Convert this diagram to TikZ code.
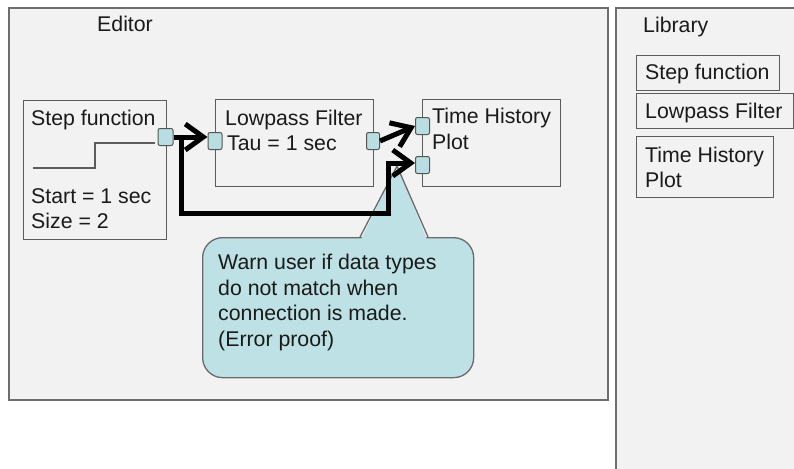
\documentclass[tikz,border=0pt]{standalone}
\usepackage{fontspec}
\setmainfont{Liberation Sans}
\usetikzlibrary{arrows.meta}
\definecolor{panelbg}{HTML}{F2F2F2}
\definecolor{panelline}{HTML}{6E6E6E}
\definecolor{boxline}{HTML}{5C5C5C}
\definecolor{portfill}{HTML}{B8DEE1}
\definecolor{portline}{HTML}{555555}
\definecolor{calloutfill}{HTML}{BDE1E4}
\definecolor{calloutline}{HTML}{6A6A6A}
\definecolor{txt}{HTML}{1A1A1A}
\begin{document}
\begin{tikzpicture}[x=1pt,y=-1pt,
  panel/.style={draw=panelline, line width=1.8pt, fill=panelbg},
  blockbox/.style={draw=boxline, line width=1.3pt, anchor=north west, inner sep=0pt},
  port/.style={draw=portline, fill=portfill, line width=1pt, rounded corners=2pt,
    minimum width=14pt, minimum height=17pt, inner sep=0pt},
  lbl/.style={anchor=base west, inner sep=0pt, font=\fontsize{21.3}{25.5}\selectfont, text=txt},
  conn/.style={line width=5pt, line join=miter, draw=black,
    -{Straight Barb[length=18pt,width=26pt]}},
  calloutbox/.style={draw=calloutline, fill=calloutfill, line width=1.3pt,
    rounded corners=20pt, anchor=north west, inner sep=0pt}
]
\useasboundingbox (0,0) rectangle (794,468);
\clip (0,0) rectangle (794,468);
\fill[white] (0,0) rectangle (794,468);

% panels
\node[panel, anchor=north west, minimum width=599pt, minimum height=392pt, inner sep=0pt] (editor) at (8,7) {};
\node[panel, anchor=north west, minimum width=200pt, minimum height=480pt, inner sep=0pt] (library) at (615,7) {};
\node[lbl] (editorlbl) at (97,32) {Editor};
\node[lbl] (librarylbl) at (643,33) {Library};

% library items
\node[blockbox, minimum width=143pt, minimum height=35pt] (libstep) at (636,55) {};
\node[lbl] (libsteplbl) at (645,80) {Step function};
\node[blockbox, minimum width=157pt, minimum height=35pt] (liblp) at (636,93) {};
\node[lbl] (liblplbl) at (645,118) {Lowpass Filter};
\node[blockbox, minimum width=137pt, minimum height=61pt] (libth) at (636,136) {};
\node[lbl] (libthlbl1) at (645,162) {Time History};
\node[lbl] (libthlbl2) at (645,187) {Plot};

% step function block
\node[blockbox, minimum width=143pt, minimum height=139pt] (stepbox) at (23,100) {};
\node[lbl] (steplbl) at (31,125) {Step function};
\draw[draw=boxline, line width=1.1pt] (33,168) -- (95,168) -- (95,143) -- (155,143);
\node[lbl] (startlbl) at (31,203) {Start = 1 sec};
\node[lbl] (sizelbl) at (31,228) {Size = 2};

% lowpass block
\node[blockbox, minimum width=158pt, minimum height=87pt] (lpbox) at (215,99) {};
\node[lbl] (lplbl) at (225,125) {Lowpass Filter};
\node[lbl] (taulbl) at (227,150) {Tau = 1 sec};

% time history block
\node[blockbox, minimum width=138pt, minimum height=87pt] (thbox) at (422,99) {};
\node[lbl] (thlbl1) at (432,124) {Time History};
\node[lbl] (thlbl2) at (432,149) {Plot};

% ports
\node[port, minimum width=15pt] (sp) at (165.5,137) {};
\node[port] (lpin) at (215,141) {};
\node[port, minimum width=13pt] (lpout) at (373,141) {};
\node[port] (thup) at (422.5,126) {};
\node[port] (thlo) at (422.5,165) {};

% callout
\node[calloutbox, minimum width=271pt, minimum height=140pt] (callout) at (202,237) {};
\fill[calloutfill] (361,239.5) -- (397,166) -- (427,239.5) -- cycle;
\draw[draw=calloutline, line width=1.3pt, line join=round] (360,237) -- (397,166) -- (428,237);
\node[lbl] (c1) at (218,269) {Warn user if data types};
\node[lbl] (c2) at (218,295) {do not match when};
\node[lbl] (c3) at (218,320) {connection is made.};
\node[lbl] (c4) at (218,346) {(Error proof)};

% connectors
\coordinate (branch) at (181,137);
\coordinate (bend) at (388,213);
\draw[conn] (sp.east |- branch) -- (lpin.west |- branch);
\draw[conn] (lpout.east) -- (thup.west);
\draw[conn] (branch) |- (bend) |- ([yshift=2pt]thlo.west);
\end{tikzpicture}
\end{document}
